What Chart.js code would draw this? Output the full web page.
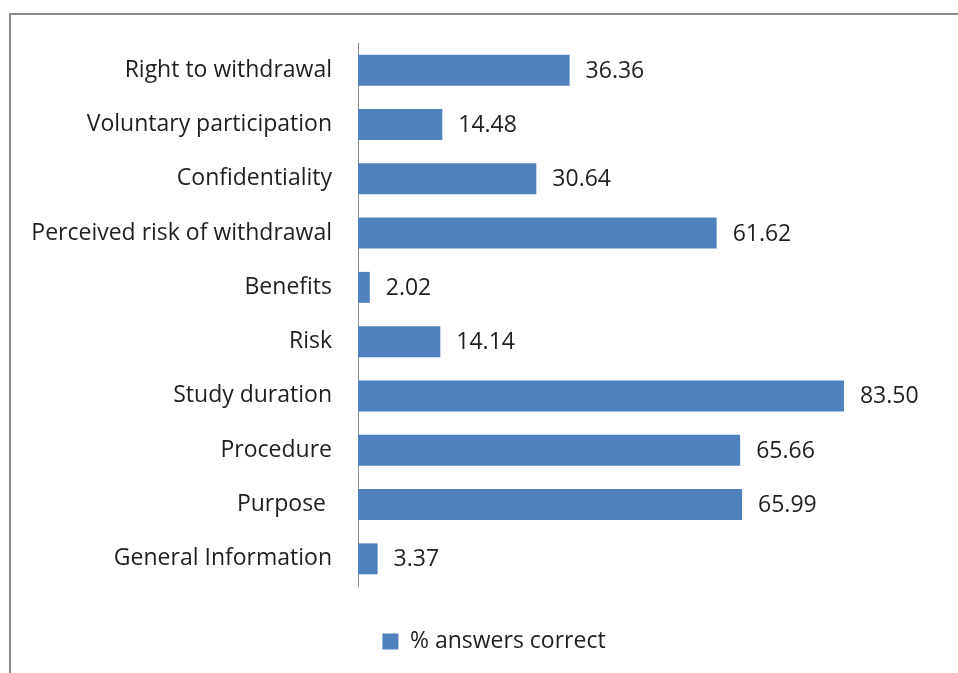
<!DOCTYPE html>
<html lang="en">
<head>
<meta charset="UTF-8">
<title>% answers correct</title>
<style>
  html, body { margin: 0; padding: 0; background: #fff; overflow: hidden; }
  #wrap { position: relative; width: 958px; height: 673px; }
  #frame {
    position: absolute; left: 9px; top: 13px; width: 1000px; height: 700px;
    border: 2px solid #8a8a8a; box-sizing: border-box; pointer-events: none;
  }
</style>
</head>
<body>
<div id="wrap">
  <canvas id="bar-chart" width="958" height="673"></canvas>
  <div id="frame"></div>
</div>
<script src="https://cdn.jsdelivr.net/npm/chart.js"></script>
<script>
  const categories = [
    "Right to withdrawal",
    "Voluntary participation",
    "Confidentiality",
    "Perceived risk of withdrawal",
    "Benefits",
    "Risk",
    "Study duration",
    "Procedure",
    "Purpose ",
    "General Information"
  ];
  const correct = [36.36, 14.48, 30.64, 61.62, 2.02, 14.14, 83.50, 65.66, 65.99, 3.37];
  const seriesName = "% answers correct";

  const FONT = "'Open Sans', sans-serif";
  const SIZE = 23;
  const TEXT = "#1f1f1f";

  // writes each value just past the end of its bar
  const valueLabels = {
    id: "valueLabels",
    afterDatasetsDraw(chart) {
      const ctx = chart.ctx;
      const meta = chart.getDatasetMeta(0);
      ctx.save();
      ctx.font = SIZE + "px " + FONT;
      ctx.fillStyle = TEXT;
      ctx.textAlign = "left";
      ctx.textBaseline = "middle";
      meta.data.forEach((bar, i) => {
        ctx.fillText(correct[i].toFixed(2), bar.x + 16, bar.y + 1);
      });
      ctx.restore();
    }
  };

  // legend sits a bit right of the canvas centre
  const legendNudge = {
    id: "legendNudge",
    afterLayout(chart) {
      chart.legend.left += 24;
      chart.legend.right += 24;
    }
  };

  new Chart(document.getElementById("bar-chart"), {
    type: "bar",
    data: {
      labels: categories,
      datasets: [{
        label: seriesName,
        data: correct,
        backgroundColor: "#4f81bd",
        borderWidth: 0,
        barPercentage: 1,
        categoryPercentage: 0.57
      }]
    },
    options: {
      indexAxis: "y",
      responsive: false,
      animation: false,
      layout: { padding: { top: 43, right: 18, bottom: 10, left: 0 } },
      scales: {
        x: { display: false, min: 0, max: 100 },
        y: {
          grid: { display: false, drawTicks: false },
          border: { display: true, color: "#8a8a8a", width: 1 },
          ticks: { color: TEXT, font: { family: FONT, size: SIZE }, padding: 26 },
          afterFit(scale) { scale.width = 358; }
        }
      },
      plugins: {
        tooltip: { enabled: false },
        legend: {
          position: "bottom",
          labels: {
            color: TEXT,
            font: { family: FONT, size: SIZE },
            boxWidth: 16,
            boxHeight: 16,
            padding: 44
          }
        }
      }
    },
    plugins: [valueLabels, legendNudge]
  });
</script>
</body>
</html>
